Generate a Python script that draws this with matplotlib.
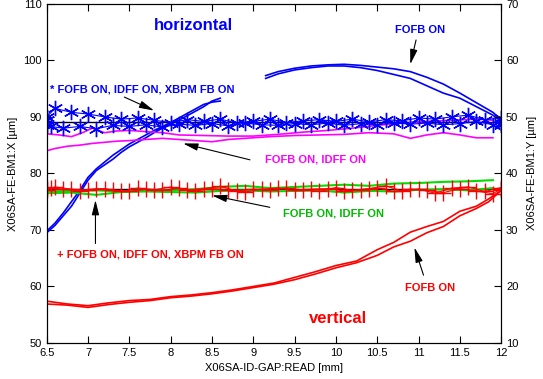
import numpy as np
import matplotlib
matplotlib.use("Agg")
import matplotlib.pyplot as plt

plt.rcParams['font.family'] = ['Liberation Sans', 'DejaVu Sans']

# ---- horizontal (left axis, X in um) ----
# FOFB ON, two sweeps, gap between 8.6 and 9.15
hx_fofb = [6.5, 6.6, 6.7, 6.8, 6.9, 7.0, 7.1, 7.2, 7.3, 7.4, 7.5, 7.6, 7.7, 7.8, 7.9, 8.0,
           8.1, 8.2, 8.3, 8.4, 8.5, 8.6, np.nan,
           9.15, 9.3, 9.5, 9.7, 9.9, 10.1, 10.3, 10.5, 10.7, 10.9, 11.1, 11.3, 11.5, 11.7, 11.9, 12.0]
hy_fofb_a = [69.5, 70.8, 72.5, 74.2, 76.5, 78.8, 80.5, 81.5, 82.5, 83.7, 84.7, 85.5, 86.3, 87.2, 88.0, 88.7,
             89.4, 90.2, 91.0, 91.8, 92.8, 93.3, np.nan,
             97.3, 98.0, 98.6, 99.0, 99.2, 99.3, 99.1, 98.8, 98.5, 98.0, 97.0, 95.8, 94.2, 92.5, 90.8, 89.5]
hy_fofb_b = [69.8, 71.2, 73.0, 75.0, 77.0, 79.3, 80.8, 82.0, 83.2, 84.2, 85.2, 86.0, 86.8, 87.6, 88.3, 89.0,
             89.8, 90.6, 91.4, 92.2, 92.6, 92.8, np.nan,
             96.8, 97.6, 98.3, 98.7, 99.0, 99.0, 98.7, 98.2, 97.5, 96.8, 95.5, 94.2, 93.3, 91.8, 90.3, 89.2]

# FOFB ON, IDFF ON
hx_idff_lo = [6.5, 6.6, 6.75, 6.9, 7.05, 7.2, 7.35, 7.5, 7.7, 7.9, 8.1, 8.3, 8.5, 8.7, 8.9, 9.2,
              9.5, 9.8, 10.1, 10.4, 10.7, 10.9, 11.1, 11.3, 11.5, 11.7, 11.9]
hy_idff_lo = [84.0, 84.4, 84.8, 85.0, 85.3, 85.5, 85.7, 85.8, 86.0, 86.2, 86.0, 85.8, 85.6, 86.0, 86.2, 86.5,
              86.7, 86.8, 86.9, 87.2, 87.0, 86.2, 86.8, 87.2, 86.8, 86.3, 86.3]
hx_idff_hi = [6.5, 6.65, 6.8, 6.95, 7.05, 7.2, 7.35, 7.5, 7.7, 7.9, 8.1, 8.4, 8.7, 9.0, 9.3, 9.6,
              9.9, 10.2, 10.5, 10.8, 11.1, 11.4, 11.7, 11.9]
hy_idff_hi = [87.0, 86.8, 86.5, 87.3, 88.0, 87.2, 87.5, 87.6, 87.4, 87.2, 86.8, 86.7, 86.6, 86.6, 86.9, 87.3,
              87.6, 88.0, 88.5, 88.9, 89.2, 89.4, 89.6, 89.4]

# FOFB ON, IDFF ON, XBPM FB ON (asterisks)
hx_xbpm_a = [6.5, 6.5, 6.5, 6.6, 6.8, 7.0, 7.2, 7.4, 7.6, 7.8, 8.0, 8.2, 8.4, 8.6, 8.8, 9.0,
             9.2, 9.4, 9.6, 9.8, 10.0, 10.2, 10.4, 10.6, 10.8, 11.0, 11.2, 11.4, 11.6, 11.8, 12.0, 12.0]
hy_xbpm_a = [89.5, 88.5, 90.0, 91.5, 90.8, 90.5, 90.0, 89.6, 89.8, 89.4, 89.0, 89.5, 89.2, 89.6, 88.9, 89.2,
             89.6, 89.0, 89.3, 89.5, 89.2, 89.6, 89.1, 89.5, 89.3, 89.8, 89.6, 90.0, 90.3, 89.5, 89.8, 88.5]
hx_xbpm_b = [6.55, 6.7, 6.9, 7.1, 7.3, 7.5, 7.7, 7.9, 8.1, 8.3, 8.5, 8.7, 8.9, 9.1, 9.3, 9.5,
             9.7, 9.9, 10.1, 10.3, 10.5, 10.7, 10.9, 11.1, 11.3, 11.5, 11.7, 11.9, 12.0]
hy_xbpm_b = [88.3, 88.0, 88.3, 87.9, 88.5, 88.3, 88.6, 88.2, 88.7, 88.5, 88.8, 88.4, 88.9, 88.6, 88.5, 88.8,
             88.6, 88.9, 88.5, 88.8, 88.6, 89.0, 88.7, 88.9, 88.6, 88.8, 89.2, 88.6, 89.0]
h_mean = 89.1

# ---- vertical (right axis, Y in um) ----
vx_fofb = [6.5, 6.75, 7.0, 7.25, 7.5, 7.75, 8.0, 8.25, 8.5, 8.75, 9.0, 9.25, 9.5, 9.75, 10.0,
           10.25, 10.5, 10.7, 10.9, 11.1, 11.3, 11.5, 11.7, 11.85, 12.0]
vy_fofb_a = [17.4, 16.9, 16.6, 17.1, 17.5, 17.7, 18.2, 18.5, 18.9, 19.4, 20.0, 20.6, 21.6, 22.6, 23.7,
             24.5, 26.5, 27.8, 29.6, 30.6, 31.5, 33.3, 34.2, 35.5, 37.0]
vy_fofb_b = [16.9, 16.7, 16.3, 16.8, 17.2, 17.5, 18.0, 18.3, 18.7, 19.2, 19.8, 20.4, 21.2, 22.2, 23.3,
             24.2, 25.5, 27.0, 28.0, 29.5, 30.6, 32.5, 33.8, 35.0, 37.0]

vx_idff = [6.5, 6.8, 7.1, 7.4, 7.7, 8.0, 8.3, 8.6, 8.9, 9.2, 9.5, 9.8, 10.1, 10.4, 10.7, 11.0,
           11.3, 11.6, 11.9]
vy_idff_lo = [36.5, 36.6, 36.2, 36.7, 36.8, 36.7, 36.6, 36.9, 37.0, 36.8, 36.9, 37.0, 36.6, 36.9, 36.8, 37.1,
              37.2, 37.0, 37.4]
vy_idff_hi = [36.8, 36.9, 37.0, 36.8, 37.1, 37.0, 37.2, 37.6, 37.8, 37.4, 37.6, 37.8, 38.0, 37.8, 38.2, 38.3,
              38.5, 38.6, 38.8]

vx_xbpm_a = [6.5, 6.5, 6.6, 6.8, 7.0, 7.2, 7.4, 7.6, 7.8, 8.0, 8.2, 8.4, 8.6, 8.8, 9.0, 9.2,
             9.4, 9.6, 9.8, 10.0, 10.2, 10.4, 10.6, 10.8, 11.0, 11.2, 11.4, 11.6, 11.8, 12.0, 12.0]
vy_xbpm_a = [37.5, 37.0, 37.6, 37.2, 37.0, 37.3, 36.8, 37.4, 37.1, 37.6, 37.0, 37.3, 37.7, 36.9, 37.2, 37.0,
             37.4, 37.1, 36.8, 37.5, 37.0, 37.3, 37.8, 36.9, 37.2, 36.5, 37.4, 37.6, 36.8, 37.5, 37.0]
vx_xbpm_b = [6.55, 6.7, 6.9, 7.1, 7.3, 7.5, 7.7, 7.9, 8.1, 8.3, 8.5, 8.7, 8.9, 9.1, 9.3, 9.5,
             9.7, 9.9, 10.1, 10.3, 10.5, 10.7, 10.9, 11.1, 11.3, 11.5, 11.7, 11.9, 12.0]
vy_xbpm_b = [37.4, 37.2, 36.9, 37.3, 37.1, 36.8, 37.2, 37.0, 37.4, 36.9, 37.3, 37.1, 36.7, 37.2, 37.4, 37.0,
             37.2, 37.3, 36.9, 37.1, 37.4, 36.8, 37.2, 37.0, 36.6, 37.3, 36.9, 36.4, 37.3]
v_mean = 37.2

BLUE = '#0000ff'
MAG = '#ff00ff'
GREEN = '#00dd00'
RED = '#ff0000'
ASTER = (6, 2, 0)  # six-armed asterisk

fig = plt.figure(figsize=(5.43, 3.79), dpi=100)
ax = fig.add_axes([0.086, 0.095, 0.837, 0.895])
ax2 = ax.twinx()

# horizontal curves
ax.axhline(h_mean, color='black', lw=1.0, zorder=1)
ax.plot(hx_fofb, hy_fofb_a, color=BLUE, lw=1.2)
ax.plot(hx_fofb, hy_fofb_b, color=BLUE, lw=1.2)
ax.plot(hx_idff_lo, hy_idff_lo, color=MAG, lw=1.2)
ax.plot(hx_idff_hi, hy_idff_hi, color=MAG, lw=1.2)
ax.plot(hx_xbpm_a, hy_xbpm_a, color=BLUE, lw=0.8, marker=ASTER, ms=11, mew=1.0)
ax.plot(hx_xbpm_b, hy_xbpm_b, color=BLUE, lw=0.8, marker=ASTER, ms=11, mew=1.0)

# vertical curves
ax2.axhline(v_mean, color='black', lw=1.0, zorder=1)
ax2.plot(vx_fofb, vy_fofb_a, color=RED, lw=1.2)
ax2.plot(vx_fofb, vy_fofb_b, color=RED, lw=1.2)
ax2.plot(vx_idff, vy_idff_lo, color=GREEN, lw=1.5)
ax2.plot(vx_idff, vy_idff_hi, color=GREEN, lw=1.5)
ax2.plot(vx_xbpm_a, vy_xbpm_a, color=RED, lw=0.8, marker='+', ms=11, mew=1.0)
ax2.plot(vx_xbpm_b, vy_xbpm_b, color=RED, lw=0.8, marker='+', ms=11, mew=1.0)

# axes styling
ax.set_xlim(6.5, 12)
ax.set_ylim(50, 110)
ax2.set_ylim(10, 70)
ax.set_xticks(np.arange(6.5, 12.01, 0.5))
ax.set_xticklabels(['6.5', '7', '7.5', '8', '8.5', '9', '9.5', '10', '10.5', '11', '11.5', '12'])
ax.set_yticks(np.arange(50, 111, 10))
ax2.set_yticks(np.arange(10, 71, 10))
ax.tick_params(axis='x', direction='in', top=True, length=5, labelsize=8)
ax.tick_params(axis='y', direction='in', length=5, labelsize=8)
ax2.tick_params(axis='y', direction='in', length=5, labelsize=8)
ax.set_xlabel('X06SA-ID-GAP:READ [mm]', fontsize=8, labelpad=4)
ax.set_ylabel('X06SA-FE-BM1:X [\u00b5m]', fontsize=8, labelpad=4)
ax2.set_ylabel('X06SA-FE-BM1:Y [\u00b5m]', fontsize=8, rotation=90, labelpad=6)

# annotations
arrow = dict(arrowstyle='-|>,head_length=0.9,head_width=0.22', color='black', lw=0.8, shrinkA=0, shrinkB=0)
tkw = dict(fontsize=8, fontweight='bold')

ax.text(8.27, 106.2, 'horizontal', color=BLUE, fontsize=12, fontweight='bold', ha='center', va='center')
ax2.text(10.03, 14.4, 'vertical', color=RED, fontsize=12, fontweight='bold', ha='center', va='center')

ax.text(11.02, 105.3, 'FOFB ON', color=BLUE, ha='center', va='center', **tkw)
ax.annotate('', xy=(10.9, 99.3), xytext=(10.97, 103.6), arrowprops=arrow)

ax.text(6.54, 94.9, '* FOFB ON, IDFF ON, XBPM FB ON', color=BLUE, ha='left', va='center', **tkw)
ax.annotate('', xy=(7.8, 91.1), xytext=(7.44, 93.5), arrowprops=arrow)

ax.text(9.75, 82.4, 'FOFB ON, IDFF ON', color=MAG, ha='center', va='center', **tkw)
ax.annotate('', xy=(8.15, 85.3), xytext=(8.96, 82.4), arrowprops=arrow)

ax2.text(9.97, 32.9, 'FOFB ON, IDFF ON', color='#00bb00', ha='center', va='center', **tkw)
ax2.annotate('', xy=(8.5, 36.1), xytext=(9.2, 34.0), arrowprops=arrow)

ax2.text(6.62, 25.7, '+ FOFB ON, IDFF ON, XBPM FB ON', color=RED, ha='left', va='center', **tkw)
ax2.annotate('', xy=(7.09, 35.3), xytext=(7.09, 27.6), arrowprops=arrow)

ax2.text(11.14, 19.8, 'FOFB ON', color=RED, ha='center', va='center', **tkw)
ax2.annotate('', xy=(10.95, 26.9), xytext=(11.06, 22.0), arrowprops=arrow)

fig.savefig('out.png', dpi=100)
